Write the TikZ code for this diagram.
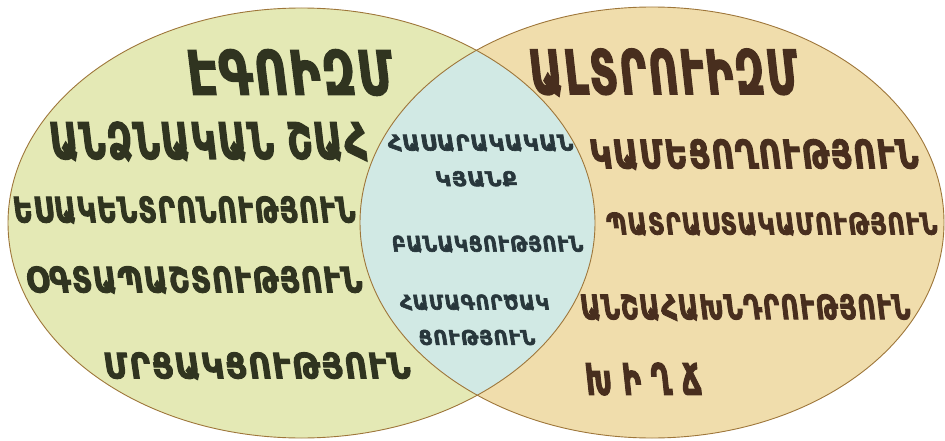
\documentclass[tikz,border=0pt]{standalone}
\usepackage{fontspec}
\usepackage{graphicx}
\setmainfont{DejaVu Sans}
\newfontfamily\armfont[FakeBold=3, FakeSlant=-0.15]{DejaVu Sans Condensed}
\usetikzlibrary{positioning}
\definecolor{egofill}{RGB}{228,233,181}
\definecolor{altfill}{RGB}{240,221,172}
\definecolor{lensfill}{RGB}{209,233,228}
\definecolor{rimbrown}{RGB}{158,118,58}
\definecolor{egotext}{RGB}{48,52,32}
\definecolor{alttext}{RGB}{72,46,30}
\definecolor{midtext}{RGB}{40,55,60}
% width, cap height, text
\newcommand{\fitword}[4][05]{\resizebox{#2pt}{#3pt}{\armfont\bfseries\addfontfeature{LetterSpace=#1}#4\kern-0.#1em}}

\begin{document}
\begin{tikzpicture}[
    x=1pt, y=1pt,
    every node/.style={inner sep=0pt, outer sep=0pt},
    egoword/.style={text=egotext},
    altword/.style={text=alttext},
    midword/.style={text=midtext},
    rim/.style={draw=rimbrown, line width=0.9pt},
]
\useasboundingbox (0,0) rectangle (945,440);
\coordinate (egoc) at (301.5,217);
\coordinate (altc) at (652,217.5);
% the two sets and their overlap
\fill[egofill] (egoc) ellipse [x radius=293.5pt, y radius=215pt];
\fill[altfill] (altc) ellipse [x radius=292pt, y radius=215.5pt];
\begin{scope}
    \clip (egoc) ellipse [x radius=293.5pt, y radius=215pt];
    \fill[lensfill] (altc) ellipse [x radius=292pt, y radius=215.5pt];
\end{scope}
\draw[rim] (egoc) ellipse [x radius=293.5pt, y radius=215pt];
\draw[rim] (altc) ellipse [x radius=292pt, y radius=215.5pt];

% left set
\node[egoword] (ego)   at (291.5,367.5) {\fitword{203}{45}{ԷԳՈԻԶՄ}};
\node[egoword] (shah)  at (209.5,298.5) {\fitword{315}{37}{ԱՆՁՆԱԿԱՆ ՇԱՀ}};
\node[egoword] (esak)  at (185,230)     {\fitword{340}{26}{ԵՍԱԿԵՆՏՐՈՆՈՒԹՅՈՒՆ}};
\node[egoword] (ogta)  at (195,160)     {\fitword{334}{26}{ՕԳՏԱՊԱՇՏՈՒԹՅՈՒՆ}};
\node[egoword] (mrtsak) at (258,74)     {\fitword{304}{26}{ՄՐՑԱԿՑՈՒԹՅՈՒՆ}};

% right set
\node[altword] (alt)   at (665,367.5)   {\fitword{266}{45}{ԱԼՏՐՈՒԻԶՄ}};
\node[altword] (kame)  at (755,285.5)   {\fitword{326}{29}{ԿԱՄԵՑՈՂՈՒԹՅՈՒՆ}};
\node[altword] (patr)  at (772.5,216)   {\fitword{329}{22}{ՊԱՏՐԱՍՏԱԿԱՄՈՒԹՅՈՒՆ}};
\node[altword] (ansh)  at (746,132.5)   {\fitword{328}{25}{ԱՆՇԱՀԱԽՆԴՐՈՒԹՅՈՒՆ}};
\node[altword] (khighch) at (639.5,61)  {\fitword[35]{105}{32}{ԽԻՂՃ}};

% overlap
\node[midword] (hasar) at (481,297)     {\fitword{184}{16}{ՀԱՍԱՐԱԿԱԿԱՆ}};
\node[midword] (kyanq) at (477,261)     {\fitword{80}{15}{ԿՅԱՆՔ}};
\node[midword] (banak) at (488,196)     {\fitword{190}{16}{ԲԱՆԱԿՑՈՒԹՅՈՒՆ}};
\node[midword] (hamag) at (475,137.5)   {\fitword{148}{15}{ՀԱՄԱԳՈՐԾԱԿ}};
\node[midword] (tsut)  at (477.5,102.5) {\fitword{115}{15}{ՑՈՒԹՅՈՒՆ}};
\end{tikzpicture}
\end{document}
